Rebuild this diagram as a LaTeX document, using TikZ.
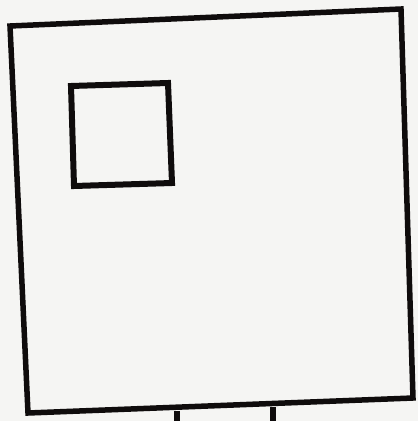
\documentclass[tikz,border=0pt]{standalone}
\definecolor{paper}{RGB}{245,245,243}
\definecolor{ink}{RGB}{15,12,12}
\begin{document}
\begin{tikzpicture}[x=1pt,y=-1pt,
  wall/.style={draw=ink,line width=5.5pt,line join=miter}]
\fill[paper] (0,0) rectangle (418,421);
\useasboundingbox (0,0) rectangle (418,421);
% outer square
\draw[wall] (10,26) -- (401,9) -- (413,398) -- (28,413) -- cycle;
% small square
\draw[wall,line width=6pt] (71,86) -- (168,83) -- (172,183) -- (74,186) -- cycle;
% bottom stub
\draw[wall] (177,411) -- (177,425);
\draw[wall] (273,407) -- (273,425);
\end{tikzpicture}
\end{document}
